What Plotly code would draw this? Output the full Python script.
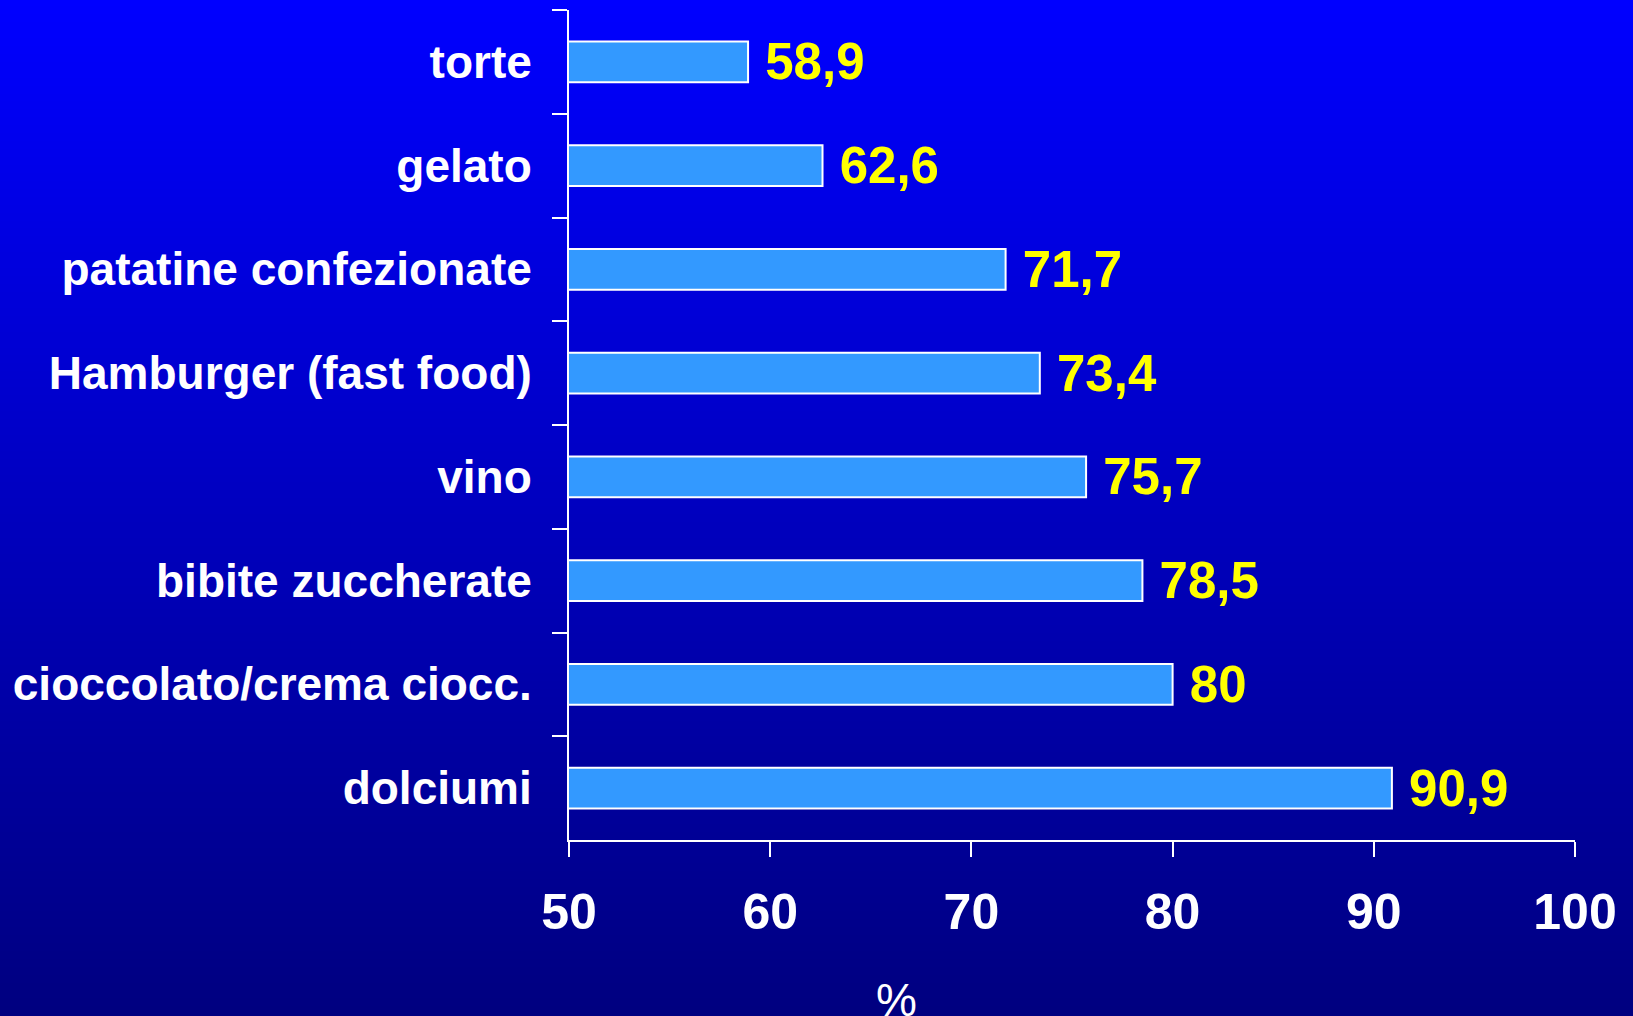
import base64
import struct
import zlib

import plotly.graph_objects as go

# data, top to bottom as shown
foods = [
    "torte",
    "gelato",
    "patatine confezionate",
    "Hamburger (fast food)",
    "vino",
    "bibite zuccherate",
    "cioccolato/crema ciocc.",
    "dolciumi",
]
percent = [58.9, 62.6, 71.7, 73.4, 75.7, 78.5, 80, 90.9]
x_ticks = [50, 60, 70, 80, 90, 100]


def gradient_png(top, bottom, rows=256):
    """1px wide vertical gradient as a base64 PNG data uri"""
    raw = b""
    for i in range(rows):
        t = i / (rows - 1)
        px = bytes(round(a + (b - a) * t) for a, b in zip(top, bottom))
        raw += b"\x00" + px

    def chunk(tag, data):
        c = struct.pack(">I", len(data)) + tag + data
        return c + struct.pack(">I", zlib.crc32(tag + data) & 0xFFFFFFFF)

    png = b"\x89PNG\r\n\x1a\n"
    png += chunk(b"IHDR", struct.pack(">IIBBBBB", 1, rows, 8, 2, 0, 0, 0))
    png += chunk(b"IDAT", zlib.compress(raw))
    png += chunk(b"IEND", b"")
    return "data:image/png;base64," + base64.b64encode(png).decode()


W, H = 1633, 1016
L, R, T, B = 569, 58, 10, 176

fig = go.Figure()

fig.add_trace(go.Bar(
    x=percent,
    y=foods,
    orientation="h",
    marker=dict(color="#3399FF", line=dict(color="white", width=2)),
    texttemplate=" %{x}",
    textposition="outside",
    constraintext="none",
    cliponaxis=False,
    textfont=dict(family="Liberation Sans", size=51, color="#FFFF00", weight="bold"),
    hoverinfo="skip",
))

fig.add_annotation(
    text="%",
    x=(896 - L) / (W - L - R),
    y=-(972 - (H - B)) / (H - T - B),
    xref="paper",
    yref="paper",
    xanchor="center",
    yanchor="top",
    showarrow=False,
    font=dict(family="Liberation Sans", size=46, color="white"),
)

fig.update_layout(
    width=W,
    height=H,
    margin=dict(l=L, r=R, t=T, b=B, pad=0),
    paper_bgcolor="#000080",
    plot_bgcolor="rgba(0,0,0,0)",
    separators=",.",
    bargap=0.605,
    showlegend=False,
    images=[dict(
        source=gradient_png((0, 0, 255), (0, 0, 128)),
        xref="paper",
        yref="paper",
        x=-L / (W - L - R),
        y=1 + T / (H - T - B),
        sizex=W / (W - L - R),
        sizey=H / (H - T - B),
        sizing="stretch",
        xanchor="left",
        yanchor="top",
        layer="below",
    )],
)

fig.update_xaxes(
    range=[50, 100],
    tickvals=x_ticks,
    showgrid=False,
    zeroline=False,
    showline=True,
    linecolor="white",
    linewidth=2,
    ticks="outside",
    ticklen=15,
    tickwidth=2,
    tickcolor="white",
    ticklabelstandoff=12,
    tickfont=dict(family="Liberation Sans", size=50, color="white", weight="bold"),
)

fig.update_yaxes(
    autorange="reversed",
    tickson="boundaries",
    showgrid=False,
    showline=True,
    linecolor="white",
    linewidth=2,
    ticks="outside",
    ticklen=15,
    tickwidth=2,
    tickcolor="white",
    ticklabelstandoff=26,
    tickfont=dict(family="Liberation Sans", size=46, color="white", weight="bold"),
)

# drop the default page margin so the chart fills the window
fig.write_html(
    "out.html",
    config={"displayModeBar": False},
    post_script="document.body.style.margin='0';document.body.style.overflow='hidden';",
)
